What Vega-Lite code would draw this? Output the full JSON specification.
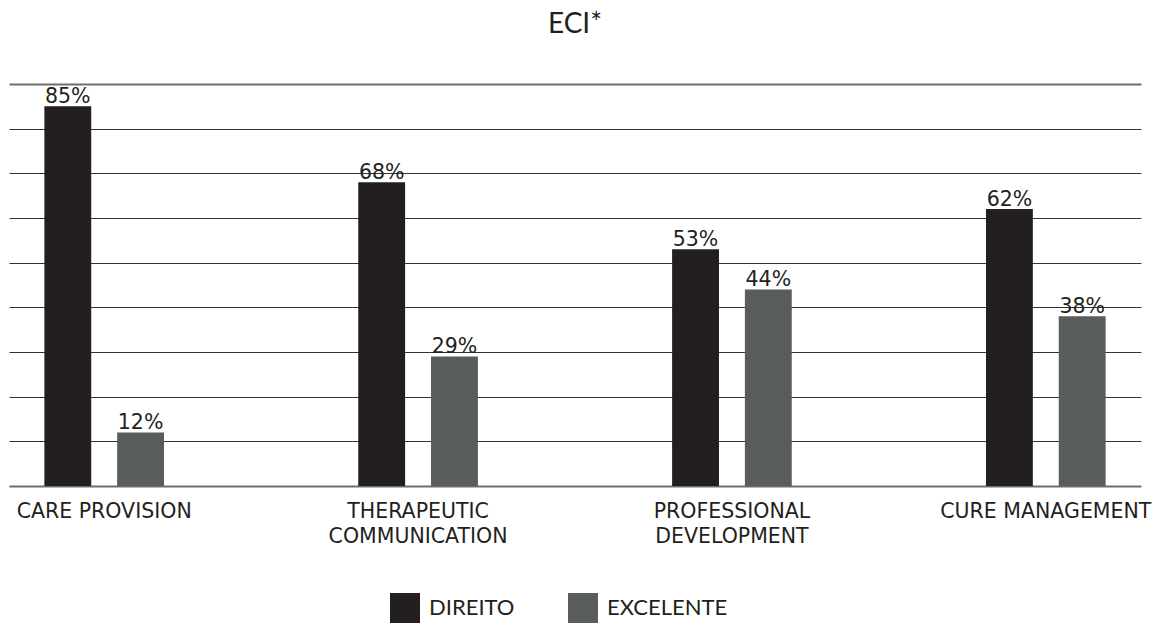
{
  "$schema": "https://vega.github.io/schema/vega-lite/v6.json",
  "width": 1132,
  "height": 402,
  "autosize": {"type": "none"},
  "padding": {"left": 9, "top": 84, "right": 15, "bottom": 137},
  "background": "white",
  "title": {"text": "ECI*", "font": "Lato", "fontSize": 28, "fontWeight": "normal", "color": "#231f20", "anchor": "middle", "baseline": "alphabetic", "offset": 23},
  "data": {
    "values": [
      {"area": "CARE PROVISION", "rating": "DIREITO", "value": 0.85},
      {"area": "CARE PROVISION", "rating": "EXCELENTE", "value": 0.12},
      {"area": "THERAPEUTIC COMMUNICATION", "rating": "DIREITO", "value": 0.68},
      {"area": "THERAPEUTIC COMMUNICATION", "rating": "EXCELENTE", "value": 0.29},
      {"area": "PROFESSIONAL DEVELOPMENT", "rating": "DIREITO", "value": 0.53},
      {"area": "PROFESSIONAL DEVELOPMENT", "rating": "EXCELENTE", "value": 0.44},
      {"area": "CURE MANAGEMENT", "rating": "DIREITO", "value": 0.62},
      {"area": "CURE MANAGEMENT", "rating": "EXCELENTE", "value": 0.38}
    ]
  },
  "encoding": {
    "x": {
      "field": "area",
      "type": "nominal",
      "sort": ["CARE PROVISION", "THERAPEUTIC COMMUNICATION", "PROFESSIONAL DEVELOPMENT", "CURE MANAGEMENT"],
      "scale": {"paddingInner": 0.6188, "paddingOuter": 0.1127},
      "axis": {
        "title": null,
        "labelAngle": 0,
        "ticks": false,
        "domain": false,
        "grid": false,
        "labelFont": "DejaVu Sans",
        "labelFontSize": 20.5,
        "labelColor": "#231f20",
        "labelPadding": 15,
        "labelLineHeight": 25,
        "labelLimit": 400,
        "labelExpr": "indexof(['THERAPEUTIC COMMUNICATION','PROFESSIONAL DEVELOPMENT'], datum.value) >= 0 ? split(datum.value, ' ') : datum.value"
      }
    },
    "xOffset": {
      "field": "rating",
      "type": "nominal",
      "sort": ["DIREITO", "EXCELENTE"],
      "scale": {"paddingInner": 0.356, "paddingOuter": 0}
    },
    "y": {
      "field": "value",
      "type": "quantitative",
      "scale": {"domain": [0, 0.9], "nice": false},
      "axis": {
        "title": null,
        "labels": false,
        "ticks": false,
        "domain": false,
        "values": [0, 0.1, 0.2, 0.3, 0.4, 0.5, 0.6, 0.7, 0.8, 0.9],
        "gridColor": {"condition": {"test": "datum.value < 0.01 || datum.value > 0.89", "value": "#6e6e6e"}, "value": "#333333"},
        "gridWidth": {"condition": {"test": "datum.value < 0.01 || datum.value > 0.89", "value": 2}, "value": 1}
      }
    }
  },
  "layer": [
    {
      "mark": {"type": "bar"},
      "encoding": {
        "color": {
          "field": "rating",
          "type": "nominal",
          "scale": {"domain": ["DIREITO", "EXCELENTE"], "range": ["#231f20", "#595c5c"]},
          "legend": {
            "title": null,
            "orient": "none",
            "direction": "horizontal",
            "legendX": 381,
            "legendY": 509,
            "symbolType": "square",
            "symbolSize": 900,
            "symbolStrokeWidth": 0,
            "symbolOpacity": 1,
            "labelFont": "Lato",
            "labelFontSize": 22,
            "labelColor": "#231f20",
            "labelOffset": 9,
            "columnPadding": 53,
            "padding": 0
          }
        }
      }
    },
    {
      "mark": {"type": "text", "baseline": "alphabetic", "dy": -3, "font": "DejaVu Sans", "fontSize": 20.5, "color": "#231f20"},
      "encoding": {"text": {"field": "value", "type": "quantitative", "format": ".0%"}}
    }
  ],
  "config": {"view": {"stroke": null}}
}
